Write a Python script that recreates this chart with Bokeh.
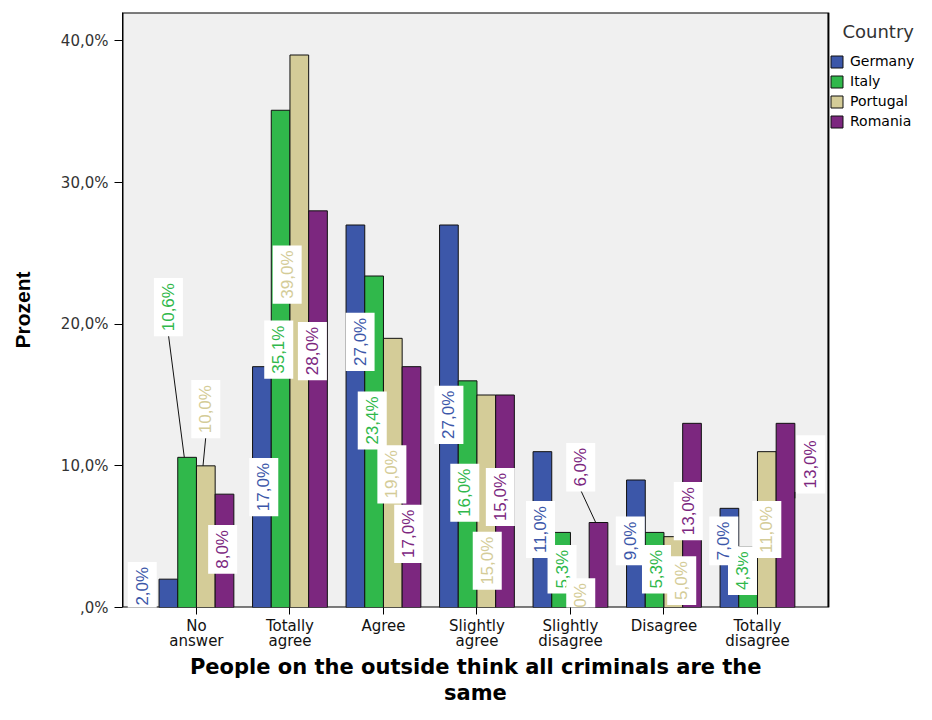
from math import pi
from bokeh.plotting import figure
from bokeh.models import ColumnDataSource, FixedTicker, Legend, LegendItem, Label, Range1d, Title
from bokeh.core.properties import value
from bokeh.embed import file_html
from bokeh.resources import INLINE

# ---------------- data ----------------
categories = ["No\nanswer", "Totally\nagree", "Agree", "Slightly\nagree",
              "Slightly\ndisagree", "Disagree", "Totally\ndisagree"]
countries = ["Germany", "Italy", "Portugal", "Romania"]
germany = [2.0, 17.0, 27.0, 27.0, 11.0, 9.0, 7.0]
italy = [10.6, 35.1, 23.4, 16.0, 5.3, 5.3, 4.3]
portugal = [10.0, 39.0, 19.0, 15.0, 1.0, 5.0, 11.0]
romania = [8.0, 28.0, 17.0, 15.0, 6.0, 13.0, 13.0]
y_ticks = [0, 10, 20, 30, 40]
y_tick_labels = [",0%", "10,0%", "20,0%", "30,0%", "40,0%"]
x_title_lines = ["People on the outside think all criminals are the", "same"]

# ---------------- layout / style ----------------
colors = ["#3c57a9", "#30b84b", "#d4cc98", "#7c277f"]
bar_offsets = [-0.3, -0.1, 0.1, 0.3]
bar_width = 0.2
# label placement (x offset from category centre, y centre in %), as in the SPSS output
label_dx = [
    [-0.58, -0.28, -0.25, -0.30, -0.32, -0.36, -0.36],
    [-0.30, -0.12, -0.12, -0.13, -0.09, -0.08, -0.16],
    [0.10, -0.03, 0.09, 0.11, 0.11, 0.19, 0.10],
    [0.28, 0.24, 0.27, 0.25, 0.11, 0.26, 0.57],
]
label_y = [
    [1.5, 8.5, 18.75, 13.6, 5.5, 4.7, 4.7],
    [21.2, 18.2, 13.2, 8.1, 2.7, 2.7, 2.6],
    [14.0, 23.5, 9.4, 3.3, 0.35, 1.9, 5.5],
    [4.1, 18.1, 5.2, 7.8, 9.9, 6.8, 10.1],
]
label_draw_order = [1, 2, 3, 0]      # Germany's labels sit on top
leaders = [(1, 0, "top"), (2, 0, "top"), (3, 4, "top"), (3, 6, "side")]

W, H = 916, 704
BORDER_L, BORDER_T, BORDER_B = 122, 12, 97
FRAME_W = W - BORDER_L
FRAME_H = H - BORDER_T - BORDER_B
PX_PER_CAT = 93.5
X_START = -0.791
X_END = X_START + FRAME_W / PX_PER_CAT      # frame also hosts the legend on the right
X_PLOT_END = 6.759                          # right edge of the grey plot area
Y_START, Y_END = 0, 42
px_per_unit = FRAME_H / (Y_END - Y_START)

series = [germany, italy, portugal, romania]

p = figure(width=W, height=H, output_backend="svg", toolbar_location=None, title=None,
           x_range=Range1d(X_START, X_END), y_range=Range1d(Y_START, Y_END),
           min_border_left=BORDER_L, min_border_right=0, min_border_top=BORDER_T,
           min_border_bottom=BORDER_B)

p.background_fill_color = "white"
p.border_fill_color = "white"
p.outline_line_color = None
p.xgrid.visible = False
p.ygrid.visible = False

# grey plot area with black frame
p.quad(left=[X_START], right=[X_PLOT_END], bottom=[Y_START], top=[Y_END],
       fill_color="#f0f0f0", line_color="black", line_width=2, level="underlay")

renderers = []
for s, vals in enumerate(series):
    src = ColumnDataSource(dict(x=[i + bar_offsets[s] for i in range(len(vals))], top=vals))
    r = p.vbar(x="x", top="top", width=bar_width, source=src,
               fill_color=colors[s], line_color="#111111", line_width=1)
    renderers.append(r)


def fmt(v):
    return f"{v:.1f}%".replace(".", ",")


def half_len(text):
    return ((0.53 * 17 * len(text)) + 10) / 2 / px_per_unit


# leader lines
x0s, y0s, x1s, y1s = [], [], [], []
for s, i, kind in leaders:
    v = series[s][i]
    lx = i + label_dx[s][i]
    lb = label_y[s][i] - half_len(fmt(v))
    bx = i + bar_offsets[s]
    if kind == "top":
        x0s.append(lx); y0s.append(lb); x1s.append(bx - 0.03); y1s.append(v)
    else:
        x0s.append(lx - 0.17); y0s.append(lb); x1s.append(bx + bar_width / 2); y1s.append(lb - 0.45)
p.segment(x0=x0s, y0=y0s, x1=x1s, y1=y1s, line_color="#111111", line_width=1)

# value labels
lx, ly, lt, lc = [], [], [], []
for s in label_draw_order:
    for i, v in enumerate(series[s]):
        lx.append(i + label_dx[s][i])
        ly.append(label_y[s][i])
        lt.append(fmt(v))
        lc.append(colors[s])
lsrc = ColumnDataSource(dict(x=lx, y=ly, text=lt, color=lc))
p.text(x="x", y="y", text="text", text_color="color", source=lsrc, angle=pi / 2,
       text_font=value("Liberation Sans"), text_font_size="17px",
       text_align="center", text_baseline="middle",
       background_fill_color="white", padding=(5, 5))

# axes
p.yaxis.ticker = FixedTicker(ticks=y_ticks)
p.yaxis.major_label_overrides = {t: l for t, l in zip(y_ticks, y_tick_labels)}
p.yaxis.major_label_text_font = "DejaVu Sans"
p.yaxis.major_label_text_font_size = "15px"
p.yaxis.major_label_text_color = "#333333"
p.yaxis.major_tick_out = 8
p.yaxis.major_tick_in = 0
p.yaxis.minor_tick_line_color = None
p.yaxis.major_label_standoff = 6
p.yaxis.axis_label = "Prozent"
p.yaxis.axis_label_text_font = "Liberation Sans"
p.yaxis.axis_label_text_font_size = "21px"
p.yaxis.axis_label_text_font_style = "bold"
p.yaxis.axis_label_text_color = "black"
p.yaxis.axis_label_standoff = 24
p.yaxis.axis_line_color = "black"

p.xaxis.ticker = FixedTicker(ticks=list(range(len(categories))))
p.xaxis.major_label_overrides = {i: c for i, c in enumerate(categories)}
p.xaxis.major_label_text_font = "DejaVu Sans"
p.xaxis.major_label_text_font_size = "15px"
p.xaxis.major_label_text_color = "#111111"
p.xaxis.major_label_text_line_height = 0.85
p.xaxis.major_tick_out = 7
p.xaxis.major_tick_in = 0
p.xaxis.minor_tick_line_color = None
p.xaxis.major_label_standoff = 2
p.xaxis.axis_line_color = None

# x-axis title: two lines centred under the grey plot area (not under the legend)
TITLE_W = [571, 63]          # rendered widths of the two lines, px
plot_center_px = (X_PLOT_END - X_START) * PX_PER_CAT / 2
for k, line in enumerate(x_title_lines):
    p.add_layout(Title(text=line, align="left", offset=plot_center_px - TITLE_W[k] / 2,
                       standoff=0,
                       text_font="DejaVu Sans", text_font_size="21px", text_font_style="bold",
                       text_color="black", text_line_height=0.85), "below")

# legend (inside the frame, to the right of the grey plot area)
LEGEND_BOTTOM_PX = 129.5     # from the top of the figure
items = [LegendItem(label=c, renderers=[r]) for c, r in zip(countries, renderers)]
legend = Legend(items=items, location=(707, (H - BORDER_B) - LEGEND_BOTTOM_PX), margin=0, padding=0,
                border_line_color=None, background_fill_alpha=0,
                label_text_font="DejaVu Sans", label_text_font_size="14px",
                label_text_color="black", glyph_width=15, glyph_height=15,
                label_height=17, spacing=3, label_standoff=6)
p.add_layout(legend)

p.add_layout(Label(x=X_PLOT_END, y=Y_END, x_offset=14, y_offset=-19, text="Country",
                   text_font="DejaVu Sans", text_font_size="18px", text_color="#333333",
                   text_baseline="middle"))

open("out.html", "w").write(file_html(p, INLINE))
